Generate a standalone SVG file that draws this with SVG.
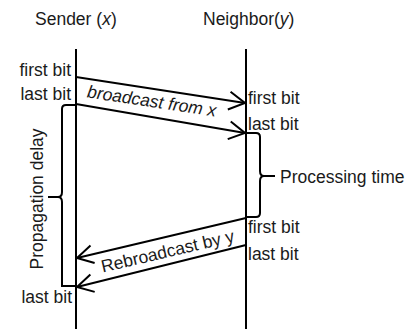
<svg xmlns="http://www.w3.org/2000/svg" width="409" height="329" viewBox="0 0 409 329">
<defs>
<style>
text{font-family:"Liberation Sans",Arial,sans-serif;font-size:17.5px;fill:#1a1a1a}
.ln{stroke:#000;stroke-width:2;fill:none}
.end{text-anchor:end}
</style>
<marker id="ah" markerUnits="userSpaceOnUse" markerWidth="22" markerHeight="22" viewBox="-18 -11 20 22" refX="0" refY="0" orient="auto">
<path d="M-16,-9 L0,0 L-16,9" fill="none" stroke="#000" stroke-width="2"/>
</marker>
</defs>
<rect width="409" height="329" fill="#fff"/>
<g id="sender">
<text x="35" y="25">Sender (<tspan font-style="italic">x</tspan>)</text>
<line class="ln" x1="76" y1="49" x2="76" y2="329"/>
</g>
<g id="neighbor">
<text x="203" y="25">Neighbor(<tspan font-style="italic">y</tspan>)</text>
<line class="ln" x1="246" y1="49" x2="246" y2="329"/>
</g>
<g id="labels">
<text class="end" x="71" y="76">first bit</text>
<text class="end" x="71" y="100">last bit</text>
<text class="end" x="72" y="303">last bit</text>
<text x="248" y="104">first bit</text>
<text x="248" y="130">last bit</text>
<text x="248" y="233">first bit</text>
<text x="248" y="260">last bit</text>
</g>
<g id="processing">
<path class="ln" d="M246,133 H256 Q260,133 260,137 V171 Q260,176 264,176 Q260,176 260,181 V213 Q260,217 256,217 H246"/>
<line class="ln" x1="264" y1="176" x2="275" y2="176"/>
<text x="280" y="183">Processing time</text>
</g>
<g id="propagation">
<path class="ln" d="M76,105 H66 Q62,105 62,109 V192 Q62,197 58,197 Q62,197 62,202 V286 H76"/>
<line class="ln" x1="58" y1="197" x2="48" y2="197"/>
<text transform="translate(43,199) rotate(-90)" text-anchor="middle">Propagation delay</text>
</g>
<g id="connectors">
<line class="ln" x1="76" y1="77" x2="245" y2="103" marker-end="url(#ah)"/>
<line class="ln" x1="76" y1="104" x2="245" y2="133" marker-end="url(#ah)"/>
<line class="ln" x1="246" y1="218" x2="77" y2="258" marker-end="url(#ah)"/>
<line class="ln" x1="246" y1="245" x2="77" y2="287" marker-end="url(#ah)"/>
<text transform="translate(151,107) rotate(8.5)" text-anchor="middle" font-style="italic" font-size="16.5">broadcast from x</text>
<text transform="translate(169,257) rotate(-13.2)" text-anchor="middle" font-size="15.5">Rebroadcast by y</text>
</g>
</svg>
